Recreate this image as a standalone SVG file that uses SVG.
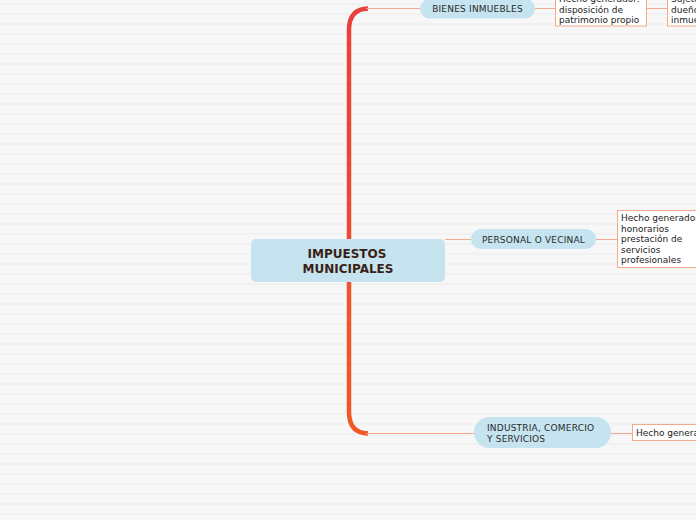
<svg xmlns="http://www.w3.org/2000/svg" width="696" height="520" viewBox="0 0 696 520">
<defs>
<pattern id="bg" x="0" y="0" width="10" height="10" patternUnits="userSpaceOnUse">
<rect width="10" height="10" fill="#f7f7f7"/>
<rect y="3" width="10" height="2" fill="#f1f1f1"/>
</pattern>
<linearGradient id="trunkTop" gradientUnits="userSpaceOnUse" x1="0" y1="8" x2="0" y2="240">
<stop offset="0" stop-color="#e8413c"/>
<stop offset="1" stop-color="#ea4a35"/>
</linearGradient>
<linearGradient id="trunkBot" gradientUnits="userSpaceOnUse" x1="0" y1="240" x2="0" y2="434">
<stop offset="0" stop-color="#ec5230"/>
<stop offset="1" stop-color="#ef5a26"/>
</linearGradient>
</defs>
<style>
.pill{fill:#c5e4f0;}
.lbl{font-family:"DejaVu Sans",Verdana,sans-serif;font-size:9px;fill:#2a2a2a;letter-spacing:0.2px;}
.box{fill:#ffffff;stroke:#f5a88f;stroke-width:1;}
.note{font-family:"DejaVu Sans",Verdana,sans-serif;font-size:9px;fill:#222222;}
.thin{fill:none;stroke:#f5a88f;stroke-width:1;}
.title{font-family:"DejaVu Sans",Verdana,sans-serif;font-size:12px;font-weight:bold;fill:#3a1f14;}
</style>
<rect width="696" height="520" fill="url(#bg)"/>

<g id="connectors">
<path d="M349,240 L349,30 Q349,9 368,8.5" fill="none" stroke="url(#trunkTop)" stroke-width="4.5"/>
<path d="M349,240 L349,412 Q349,433 368,433.5" fill="none" stroke="url(#trunkBot)" stroke-width="4.5"/>
<path class="thin" d="M366,8.5 L421,8.5"/>
<path class="thin" d="M366,433.5 L475,433.5"/>
<path class="thin" d="M445,239.5 L472,239.5"/>
<path class="thin" d="M535,8.5 L556,8.5"/>
<path class="thin" d="M647,8.5 L668,8.5"/>
<path class="thin" d="M596,239.5 L618,239.5"/>
<path class="thin" d="M611,433.5 L633,433.5"/>
</g>

<g id="center">
<rect x="251" y="239" width="194" height="43" rx="5" class="pill"/>
<text class="title" x="347" y="258" text-anchor="middle">IMPUESTOS</text>
<text class="title" x="348" y="273" text-anchor="middle">MUNICIPALES</text>
</g>

<g id="bienes">
<rect x="420" y="-1" width="115" height="19.5" rx="9.75" class="pill"/>
<text class="lbl" x="477.5" y="11.5" text-anchor="middle">BIENES INMUEBLES</text>
</g>

<g id="bienes-hecho">
<rect x="555.5" y="-10" width="91" height="36" class="box"/>
<text class="note" x="559" y="1.5">Hecho generador:</text>
<text class="note" x="559" y="12.5">disposición de</text>
<text class="note" x="559" y="23">patrimonio propio</text>
</g>

<g id="bienes-sujeto">
<rect x="667.5" y="-10" width="40" height="36" class="box"/>
<text class="note" x="671" y="1.5">Sujeto pasivo:</text>
<text class="note" x="671" y="12.5">dueño del</text>
<text class="note" x="671" y="23">inmueble</text>
</g>

<g id="personal">
<rect x="471" y="229" width="125" height="20" rx="10" class="pill"/>
<text class="lbl" x="533.5" y="242.5" text-anchor="middle">PERSONAL O VECINAL</text>
</g>

<g id="personal-hecho">
<rect x="617.5" y="210.5" width="90" height="57" class="box"/>
<text class="note" x="621" y="220.5">Hecho generador:</text>
<text class="note" x="621" y="231.5">honorarios</text>
<text class="note" x="621" y="242">prestación de</text>
<text class="note" x="621" y="252.5">servicios</text>
<text class="note" x="621" y="263">profesionales</text>
</g>

<g id="industria">
<rect x="474" y="417" width="137" height="31" rx="15.5" class="pill"/>
<text class="lbl" x="487" y="431">INDUSTRIA, COMERCIO</text>
<text class="lbl" x="487" y="442">Y SERVICIOS</text>
</g>

<g id="industria-hecho">
<rect x="632.5" y="424.5" width="80" height="16" class="box"/>
<text class="note" x="636" y="436">Hecho generador:</text>
</g>
</svg>
